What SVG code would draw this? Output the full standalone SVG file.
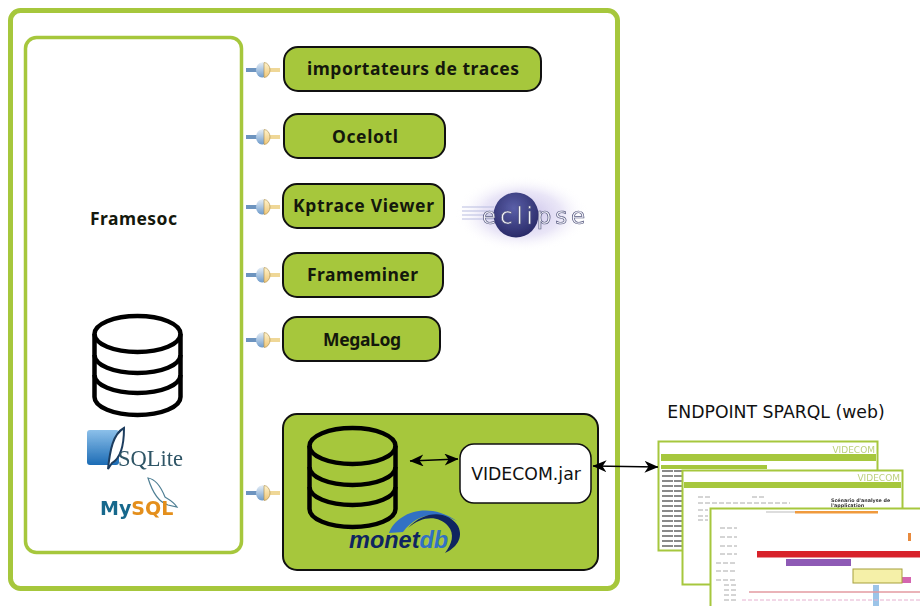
<svg xmlns="http://www.w3.org/2000/svg" width="920" height="606" viewBox="0 0 920 606">
<defs>
<style>
.frame{fill:#fff;stroke:#a6c73c}
.plug{fill:#a6c73c;stroke:#111;stroke-width:2}
.lbl{font-family:"Noto Sans","DejaVu Sans",sans-serif;font-weight:700;font-size:17.500px;fill:#14180c}
.db{fill:none;stroke:#000;stroke-width:4.500}
.shot{fill:#fff;stroke:#a6c73c;stroke-width:2}
.bar{fill:#a6c73c}
.vid{font-family:"DejaVu Sans",sans-serif;font-size:9px;fill:#bcd07c;text-anchor:end}
.row{stroke:#8a8a8a;stroke-width:1.800;stroke-dasharray:11 1}
.tiny{stroke:#aaa;stroke-width:1;stroke-dasharray:5 2}
.lnk{stroke:#000;stroke-width:1.500;fill:none;marker-start:url(#ah);marker-end:url(#ah)}
</style>
<filter id="soft" x="-5%" y="-5%" width="110%" height="110%"><feGaussianBlur stdDeviation="0.45"/></filter>
<marker id="ah" viewBox="0 0 14 12" refX="13.500" refY="6" markerWidth="14" markerHeight="12" markerUnits="userSpaceOnUse" orient="auto-start-reverse"><path d="M0 0L14 6L0 12L4 6Z" fill="#000"/></marker>
<linearGradient id="pb" x1="0" y1="0" x2="0" y2="1"><stop offset="0" stop-color="#e4edf6"/><stop offset="1" stop-color="#6e9bcb"/></linearGradient>
<linearGradient id="pl" x1="0" y1="0" x2="0" y2="1"><stop offset="0" stop-color="#fff3cc"/><stop offset="1" stop-color="#eec679"/></linearGradient>
<linearGradient id="sq" x1="0" y1="0" x2="0" y2="1"><stop offset="0" stop-color="#8cc0ea"/><stop offset="1" stop-color="#1c6cb5"/></linearGradient>
<radialGradient id="ec" cx="0.45" cy="0.35" r="0.75"><stop offset="0" stop-color="#5a5fa8"/><stop offset="1" stop-color="#23235f"/></radialGradient>
<radialGradient id="gl"><stop offset="0" stop-color="#bdb2e4" stop-opacity="0.9"/><stop offset="0.6" stop-color="#dcd6f2" stop-opacity="0.6"/><stop offset="1" stop-color="#fff" stop-opacity="0"/></radialGradient>
<g id="plugicon" filter="url(#soft)">
<rect x="0" y="-2" width="12" height="4" fill="#6d94bf"/>
<rect x="23" y="-2" width="11" height="4" fill="#efd797"/>
<path d="M9 0L17 -7.500V7.500Z" fill="#7099c8"/>
<ellipse cx="16" cy="0" rx="6" ry="7.500" fill="url(#pb)"/>
<path d="M18 -7.500A6 7.500 0 0 1 18 7.500Z" fill="url(#pl)" stroke="#a88b4a" stroke-width="0.600"/>
</g>
<g id="dbicon">
<path class="db" d="M-43 -28A43 18 0 0 1 43 -28V35A43 18 0 0 1 -43 35Z"/>
<path class="db" d="M-43 -28A43 18 0 0 0 43 -28M-43 -7A43 18 0 0 0 43 -7M-43 13A43 18 0 0 0 43 13"/>
</g>
</defs>
<rect width="920" height="606" fill="#fff"/>

<g id="main-frame"><rect class="frame" x="10.500" y="10.500" width="607" height="578" rx="10" stroke-width="5"/></g>

<g id="framesoc">
<rect class="frame" x="25.500" y="37.500" width="216" height="515" rx="11" stroke-width="3.500"/>
<text x="90" y="225" class="lbl" textLength="87">Framesoc</text>
<use href="#dbicon" x="137.500" y="362"/>
</g>

<g id="sqlite" filter="url(#soft)">
<rect x="87" y="430" width="32" height="35" rx="3" fill="url(#sq)"/>
<path d="M108 469C110 450 113 434 124 428C124 446 121 458 112 463Z" fill="#fff" stroke="#1e3c5e" stroke-width="2"/>
<text x="118" y="466" font-family="Liberation Serif,serif" font-size="22.500" fill="#2f5566">SQLite</text>
</g>
<g id="mysql" filter="url(#soft)">
<path d="M148 478C155 479 161 487 165 497C170 500 174 502 177 507L168 505C158 502 152 491 148 478Z" fill="none" stroke="#4f7f94" stroke-width="1.200"/>
<text x="100" y="515" font-family="DejaVu Sans,sans-serif" font-weight="700" font-size="19" fill="#19688c">My<tspan fill="#e48f1b">SQL</tspan></text>
</g>

<g id="importateurs"><rect class="plug" x="284" y="47" width="257" height="44" rx="14"/><text class="lbl" x="307" y="75" textLength="212">importateurs de traces</text></g>
<g id="ocelotl"><rect class="plug" x="284" y="114" width="161" height="44" rx="14"/><text class="lbl" x="332" y="143" textLength="66">Ocelotl</text></g>
<g id="kptrace"><rect class="plug" x="283" y="184" width="161" height="44" rx="14"/><text class="lbl" x="293" y="212" textLength="141">Kptrace Viewer</text></g>
<g id="frameminer"><rect class="plug" x="283" y="253" width="160" height="44" rx="14"/><text class="lbl" x="307" y="281" textLength="111">Frameminer</text></g>
<g id="megalog"><rect class="plug" x="283" y="317" width="157" height="44" rx="14"/><text class="lbl" x="323" y="346" textLength="78">MegaLog</text></g>

<g id="eclipse" filter="url(#soft)">
<ellipse cx="522" cy="214" rx="66" ry="38" fill="url(#gl)"/>
<circle cx="516" cy="215" r="22.500" fill="url(#ec)"/>
<g stroke="#b9bde0" stroke-width="1"><line x1="462" y1="207" x2="494" y2="207"/><line x1="462" y1="211" x2="494" y2="211"/><line x1="462" y1="215" x2="494" y2="215"/><line x1="462" y1="219" x2="494" y2="219"/></g>
<text x="482" y="224" font-family="DejaVu Sans,sans-serif" font-size="23" letter-spacing="3.800" fill="#f4f4fa" stroke="#55587e" stroke-width="0.700">eclipse</text>
</g>

<g id="monetdb-box">
<rect class="plug" x="283" y="414" width="315" height="156" rx="14"/>
<use href="#dbicon" x="352.500" y="474"/>
<path d="M389 533C396 514 426 500 457 521C436 510 416 514 403 532Z" fill="#3271c4"/>
<path d="M408 528C424 510 448 510 458 526C464 538 456 548 445 553C452 544 455 534 448 526C438 515 422 516 408 528Z" fill="#0f2560"/>
<text x="349" y="548" font-family="Liberation Sans,sans-serif" font-weight="700" font-style="italic" font-size="23.500" fill="#0f2560">monet<tspan fill="#3271c4">db</tspan></text>
</g>
<g id="videcom-jar"><rect x="460" y="444" width="131" height="59" rx="14" fill="#fff" stroke="#111" stroke-width="1.500"/><text x="526" y="480" font-family="DejaVu Sans,sans-serif" font-size="17.300" fill="#111" text-anchor="middle">VIDECOM.jar</text></g>

<g id="endpoint-title"><text x="776" y="418" font-family="DejaVu Sans,sans-serif" font-size="17.300" fill="#111" text-anchor="middle">ENDPOINT SPARQL (web)</text></g>

<g id="endpoint-shots" filter="url(#soft)">
<rect class="shot" x="658.500" y="441.500" width="219" height="109"/>
<text class="vid" x="875" y="453">VIDECOM</text>
<rect class="bar" x="661" y="454" width="215" height="7"/>
<rect class="bar" x="661" y="465" width="106" height="4"/>
<g class="row"><line x1="662" y1="471" x2="682" y2="471"/><line x1="662" y1="476" x2="682" y2="476"/><line x1="662" y1="481" x2="682" y2="481"/><line x1="662" y1="486" x2="682" y2="486"/><line x1="662" y1="491" x2="682" y2="491"/><line x1="662" y1="496" x2="682" y2="496"/><line x1="662" y1="501" x2="682" y2="501"/><line x1="662" y1="506" x2="682" y2="506"/><line x1="662" y1="511" x2="682" y2="511"/><line x1="662" y1="516" x2="682" y2="516"/><line x1="662" y1="521" x2="682" y2="521"/><line x1="662" y1="526" x2="682" y2="526"/><line x1="662" y1="531" x2="682" y2="531"/><line x1="662" y1="536" x2="682" y2="536"/><line x1="662" y1="541" x2="682" y2="541"/><line x1="662" y1="546" x2="682" y2="546"/></g>
<rect class="shot" x="682.500" y="470.500" width="220" height="114"/>
<text class="vid" x="900" y="481">VIDECOM</text>
<rect class="bar" x="684" y="482" width="217" height="6"/>
<g class="tiny"><line x1="698" y1="497" x2="710" y2="497"/><line x1="752" y1="497" x2="764" y2="497"/><line x1="698" y1="503" x2="790" y2="503"/><line x1="698" y1="510" x2="708" y2="510"/><line x1="698" y1="516" x2="708" y2="516"/><line x1="698" y1="520" x2="708" y2="520"/></g>
<text x="831" y="502" font-family="DejaVu Sans,sans-serif" font-size="4.800" font-weight="700" fill="#333">Scénario d'analyse de</text>
<text x="831" y="507" font-family="DejaVu Sans,sans-serif" font-size="4.800" font-weight="700" fill="#333">l'application</text>
<rect class="shot" x="710.500" y="508.500" width="220" height="110"/>
<rect x="795" y="511" width="83" height="2.500" fill="#f09a3c"/>
<rect x="766" y="511" width="29" height="2" fill="#ddd"/>
<rect x="757" y="551" width="163" height="6.500" fill="#d8242c"/>
<rect x="786" y="559" width="65" height="7" fill="#8e5ab5"/>
<rect x="908" y="533" width="3" height="8" fill="#e88a3c"/>
<rect x="902" y="577" width="9" height="6" fill="#d465b0"/>
<rect x="853" y="569" width="49" height="14" fill="#f5f0a8" stroke="#a6a03c"/>
<rect x="873" y="585" width="6" height="21" fill="#9cc4e8"/>
<line x1="749" y1="592" x2="920" y2="592" stroke="#e39aa0" stroke-width="1.500"/>
<line x1="742" y1="600" x2="920" y2="600" stroke="#e6b0d0" stroke-width="1" stroke-dasharray="4 2"/>
<g class="tiny"><line x1="720" y1="528" x2="737" y2="528"/><line x1="720" y1="537" x2="737" y2="537"/><line x1="720" y1="546" x2="737" y2="546"/><line x1="720" y1="554" x2="737" y2="554"/><line x1="716" y1="563" x2="737" y2="563"/><line x1="716" y1="571" x2="737" y2="571"/><line x1="716" y1="580" x2="737" y2="580"/><line x1="724" y1="585" x2="737" y2="585"/><line x1="724" y1="590" x2="737" y2="590"/><line x1="724" y1="595" x2="737" y2="595"/><line x1="724" y1="600" x2="737" y2="600"/></g>
</g>

<g id="connectors">
<use href="#plugicon" x="246" y="70"/>
<use href="#plugicon" x="246" y="137"/>
<use href="#plugicon" x="246" y="207"/>
<use href="#plugicon" x="246" y="275"/>
<use href="#plugicon" x="246" y="340"/>
<use href="#plugicon" x="246" y="493"/>
<line class="lnk" x1="410" y1="461" x2="458" y2="459"/>
<line class="lnk" x1="593" y1="466" x2="658" y2="467"/>
</g>
</svg>
